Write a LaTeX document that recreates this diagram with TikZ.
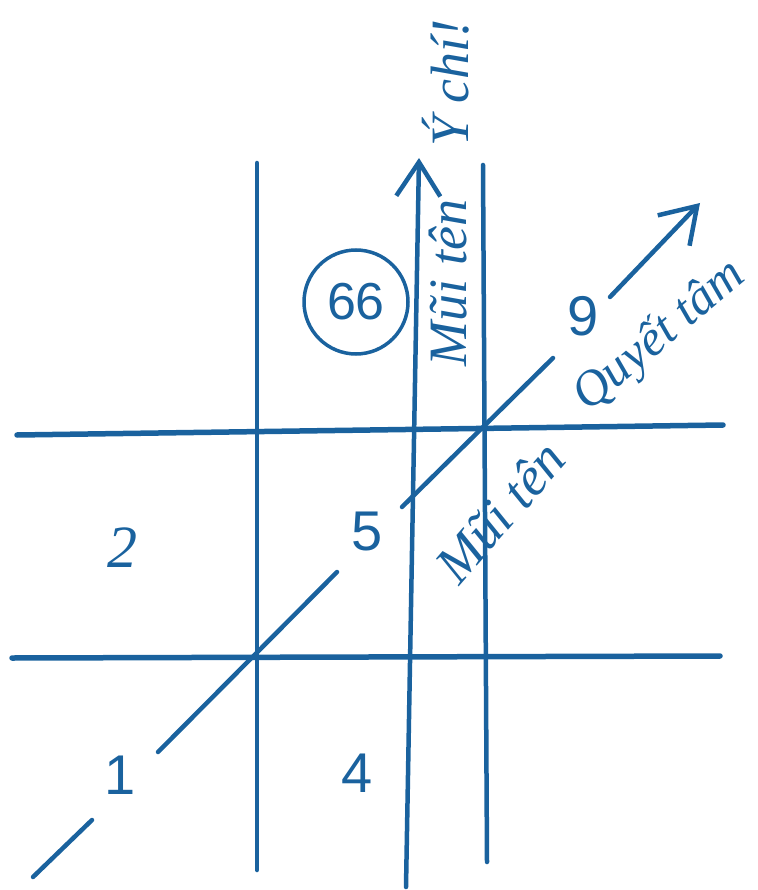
\documentclass[tikz,border=0pt]{standalone}
\usepackage{fontspec}
\setmainfont{Liberation Serif}
\newfontfamily\numfont{Liberation Sans}
\usetikzlibrary{arrows.meta}
\definecolor{ink}{RGB}{26,98,158}
\tikzset{
  pen/.style={draw=ink, line width=5.5pt, line cap=round},
  thinpen/.style={draw=ink, line width=4.5pt, line cap=round},
  barb/.style={-{Straight Barb[length=34pt,width=44pt,line width=4.5pt]}},
  num/.style={text=ink, font=\numfont\fontsize{56}{60}\selectfont, inner sep=0pt},
  word/.style={text=ink, font=\itshape\fontsize{54}{60}\selectfont, inner sep=0pt},
}
\begin{document}
\begin{tikzpicture}[x=1pt,y=-1pt]
\useasboundingbox (0,0) rectangle (757,890);
% grid lines
\coordinate (h1a) at (17,435); \coordinate (h1b) at (723,425);
\coordinate (h2a) at (12,658); \coordinate (h2b) at (720,656);
\coordinate (v1a) at (257,163); \coordinate (v1b) at (257,870);
\coordinate (v2a) at (406,887); \coordinate (v2b) at (419,158);
\coordinate (v3a) at (483,165); \coordinate (v3b) at (487,862);
\draw[pen] (h1a) -- (h1b);
\draw[pen] (h2a) -- (h2b);
\draw[thinpen] (v1a) -- (v1b);
\draw[thinpen] (v3a) -- (v3b);
\draw[thinpen, barb] (v2a) -- (v2b);
% diagonal
\coordinate (d0) at (33,877); \coordinate (d1) at (92,820);
\coordinate (d2) at (158,752); \coordinate (d3) at (337,572);
\coordinate (d4) at (402,507); \coordinate (d5) at (553,358);
\coordinate (d6) at (610,297); \coordinate (d7) at (700,203);
\draw[thinpen] (d0) -- (d1);
\draw[thinpen] (d2) -- (d3);
\draw[thinpen] (d4) -- (d5);
\draw[thinpen, barb] (d6) -- (d7);
% numbers
\node[num] (n1) at (120,775) {1};
\node[num] (n4) at (357,773) {4};
\node[num] (n5) at (367,532) {5};
\node[num] (n9) at (583,316) {9};
\node[text=ink, font=\itshape\fontsize{60}{60}\selectfont, inner sep=0pt] (n2) at (122,548) {2};
\node[circle, draw=ink, line width=3.5pt, minimum size=104pt, inner sep=0pt,
      text=ink, font=\numfont\fontsize{52}{56}\selectfont] (c66) at (356,302) {66};
% words
\node[word, rotate=90] (w1) at (448,283) {Mũi tên};
\node[word, rotate=90] (w2) at (446,83) {Ý chí!};
\node[word, rotate=49] (w3) at (500,512) {Mũi tên};
\node[word, rotate=40, anchor=west, font=\itshape\fontsize{50}{56}\selectfont] (w4) at (580,403) {Quyết tâm};
\end{tikzpicture}
\end{document}
